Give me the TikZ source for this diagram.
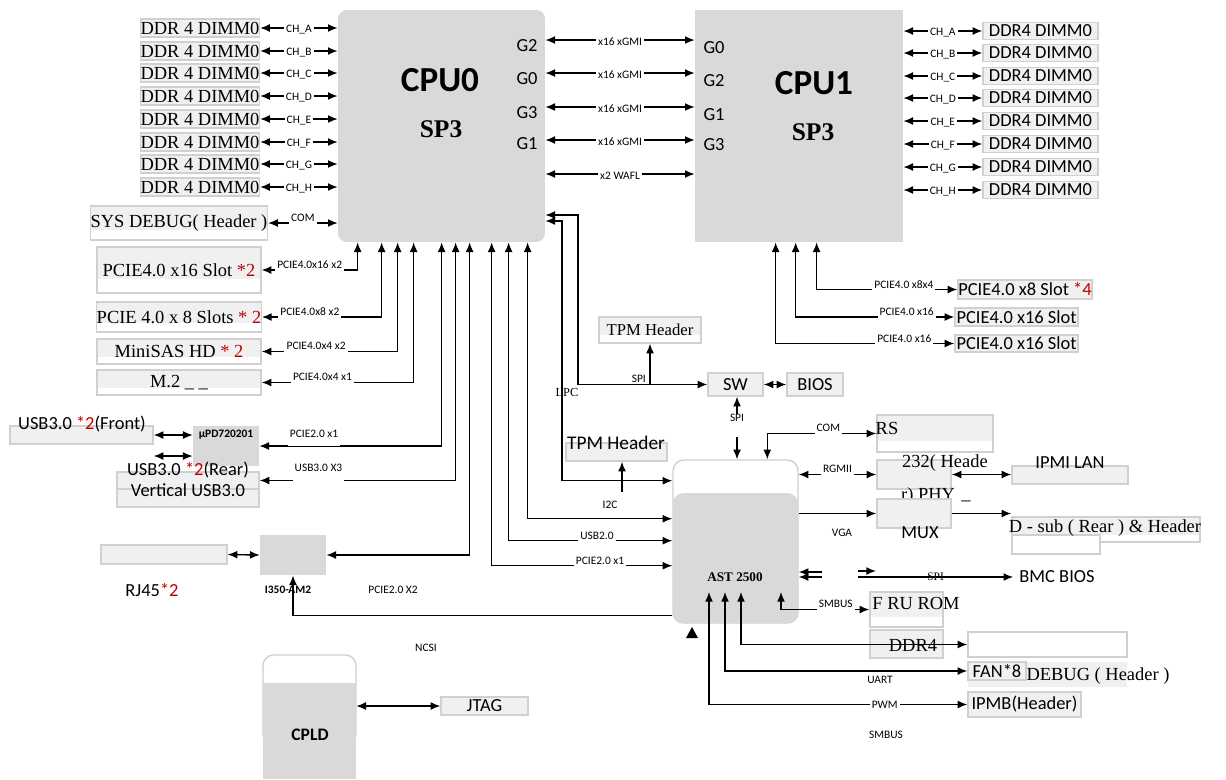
\documentclass[tikz,border=0pt]{standalone}
\usepackage{fontspec}
\setmainfont{Liberation Serif}
\setsansfont{Carlito}
\usepackage{tikz}
\usetikzlibrary{arrows.meta,positioning,calc}
\definecolor{cpuGray}{HTML}{D9D9D9}
\definecolor{boxFill}{HTML}{F0F0F0}
\definecolor{boxLine}{HTML}{D0D0D0}
\definecolor{starRed}{HTML}{C00000}

\begin{document}
\begin{tikzpicture}[x=0.02cm,y=-0.02cm,
  chip/.style={fill=cpuGray,inner sep=0pt},
  gbox/.style={draw=boxLine,fill=boxFill,line width=0.8pt,inner sep=0pt},
  wbox/.style={draw=boxLine,fill=white,line width=0.8pt,inner sep=0pt},
  slot/.style={wbox,path picture={\fill[boxFill] (path picture bounding box.north west) rectangle ($(path picture bounding box.south east)!0.3!(path picture bounding box.north east)$);}},
  ser/.style={font=\fontsize{10.5}{12}\selectfont},
  san/.style={font=\sffamily\fontsize{10.5}{12}\selectfont},
  ddrl/.style={gbox,ser,minimum width=2.32cm,minimum height=0.36cm},
  ddrr/.style={gbox,san,minimum width=2.3cm,minimum height=0.35cm},
  lbl/.style={font=\sffamily\fontsize{6.5}{7}\selectfont,fill=white,inner sep=1.2pt,yshift=3pt},
  hilbl/.style={lbl,yshift=4pt,inner ysep=5pt},
  chl/.style={font=\sffamily\fontsize{6.5}{7}\selectfont,fill=white,inner sep=1.2pt,yshift=-1pt},
  txt/.style={font=\sffamily\fontsize{6.5}{7}\selectfont,inner sep=0pt},
  bold/.style={font=\sffamily\bfseries\fontsize{6.5}{7}\selectfont},
  arr/.style={-{Latex[length=5.5pt,width=4.5pt]},line width=0.8pt},
  dbl/.style={{Latex[length=5.5pt,width=4.5pt]}-{Latex[length=5.5pt,width=4.5pt]},line width=0.8pt}
]
  \useasboundingbox (0,0) rectangle (1226,779);
  \fill[white] (0,0) rectangle (1226,779);

  \node[chip,rounded corners=5pt,minimum width=4.14cm,minimum height=4.64cm] (cpu0) at (441.5,126) {};
  \node[chip,minimum width=4.16cm,minimum height=4.64cm] (cpu1) at (799,126) {};
  \node[font=\sffamily\bfseries\fontsize{20}{24}\selectfont] (cpu0name) at (440,80) {CPU0};
  \node[font=\bfseries\fontsize{14.5}{17}\selectfont] (cpu0sock) at (441,129) {SP3};
  \node[font=\sffamily\bfseries\fontsize{20}{24}\selectfont] (cpu1name) at (814,83) {CPU1};
  \node[font=\bfseries\fontsize{14.5}{17}\selectfont] (cpu1sock) at (813,132) {SP3};
  \node[san] (g02) at (527,46) {G2};
  \node[san] (g00) at (527,79) {G0};
  \node[san] (g03) at (527,113) {G3};
  \node[san] (g01) at (527,144) {G1};
  \node[san] (g10) at (714,48) {G0};
  \node[san] (g12) at (714,81) {G2};
  \node[san] (g11) at (714,115) {G1};
  \node[san] (g13) at (714,145) {G3};

  \coordinate (gmi1) at (620,40);
  \coordinate (gmi2) at (620,73);
  \coordinate (gmi3) at (620,107);
  \coordinate (gmi4) at (620,140);
  \coordinate (wafl) at (620,174);
  \draw[dbl] (gmi1 -| cpu0.east) -- node[chl]{x16 xGMI} (gmi1 -| cpu1.west);
  \draw[dbl] (gmi2 -| cpu0.east) -- node[chl]{x16 xGMI} (gmi2 -| cpu1.west);
  \draw[dbl] (gmi3 -| cpu0.east) -- node[chl]{x16 xGMI} (gmi3 -| cpu1.west);
  \draw[dbl] (gmi4 -| cpu0.east) -- node[chl]{x16 xGMI} (gmi4 -| cpu1.west);
  \draw[dbl] (wafl -| cpu0.east) -- node[chl]{x2 WAFL} (wafl -| cpu1.west);

  \node[ddrl] (ddrA0) at (200,28) {DDR 4 DIMM0};
  \node[ddrl] (ddrB0) at (200,51) {DDR 4 DIMM0};
  \node[ddrl] (ddrC0) at (200,73) {DDR 4 DIMM0};
  \node[ddrl] (ddrD0) at (200,96) {DDR 4 DIMM0};
  \node[ddrl] (ddrE0) at (200,119) {DDR 4 DIMM0};
  \node[ddrl] (ddrF0) at (200,142) {DDR 4 DIMM0};
  \node[ddrl] (ddrG0) at (200,164) {DDR 4 DIMM0};
  \node[ddrl] (ddrH0) at (200,187) {DDR 4 DIMM0};
  \draw[dbl] (ddrA0.east) -- node[chl]{CH\_A} (ddrA0.east -| cpu0.west);
  \draw[dbl] (ddrB0.east) -- node[chl]{CH\_B} (ddrB0.east -| cpu0.west);
  \draw[dbl] (ddrC0.east) -- node[chl]{CH\_C} (ddrC0.east -| cpu0.west);
  \draw[dbl] (ddrD0.east) -- node[chl]{CH\_D} (ddrD0.east -| cpu0.west);
  \draw[dbl] (ddrE0.east) -- node[chl]{CH\_E} (ddrE0.east -| cpu0.west);
  \draw[dbl] (ddrF0.east) -- node[chl]{CH\_F} (ddrF0.east -| cpu0.west);
  \draw[dbl] (ddrG0.east) -- node[chl]{CH\_G} (ddrG0.east -| cpu0.west);
  \draw[dbl] (ddrH0.east) -- node[chl]{CH\_H} (ddrH0.east -| cpu0.west);

  \node[ddrr] (ddrA1) at (1040.5,31) {DDR4 DIMM0};
  \node[ddrr] (ddrB1) at (1040.5,53) {DDR4 DIMM0};
  \node[ddrr] (ddrC1) at (1040.5,76) {DDR4 DIMM0};
  \node[ddrr] (ddrD1) at (1040.5,98) {DDR4 DIMM0};
  \node[ddrr] (ddrE1) at (1040.5,121) {DDR4 DIMM0};
  \node[ddrr] (ddrF1) at (1040.5,144) {DDR4 DIMM0};
  \node[ddrr] (ddrG1) at (1040.5,167) {DDR4 DIMM0};
  \node[ddrr] (ddrH1) at (1040.5,190) {DDR4 DIMM0};
  \draw[dbl] (ddrA1.west -| cpu1.east) -- node[chl]{CH\_A} (ddrA1.west);
  \draw[dbl] (ddrB1.west -| cpu1.east) -- node[chl]{CH\_B} (ddrB1.west);
  \draw[dbl] (ddrC1.west -| cpu1.east) -- node[chl]{CH\_C} (ddrC1.west);
  \draw[dbl] (ddrD1.west -| cpu1.east) -- node[chl]{CH\_D} (ddrD1.west);
  \draw[dbl] (ddrE1.west -| cpu1.east) -- node[chl]{CH\_E} (ddrE1.west);
  \draw[dbl] (ddrF1.west -| cpu1.east) -- node[chl]{CH\_F} (ddrF1.west);
  \draw[dbl] (ddrG1.west -| cpu1.east) -- node[chl]{CH\_G} (ddrG1.west);
  \draw[dbl] (ddrH1.west -| cpu1.east) -- node[chl]{CH\_H} (ddrH1.west);

  \node[slot,ser,minimum width=3.28cm,minimum height=0.68cm] (sysdbg) at (179,223) {SYS DEBUG( Header )};
  \node[slot,ser,minimum width=3.28cm,minimum height=0.92cm] (slot16) at (179,270) {PCIE4.0 x16 Slot \textcolor{starRed}{*2}};
  \node[slot,ser,minimum width=3.28cm,minimum height=0.6cm] (slot8) at (179,317) {PCIE 4.0 x 8 Slots \textcolor{starRed}{* 2}};
  \node[slot,ser,minimum width=3.28cm,minimum height=0.5cm] (minisas) at (179,351.5) {MiniSAS HD \textcolor{starRed}{* 2}};
  \node[slot,ser,minimum width=3.28cm,minimum height=0.5cm] (m2) at (179,382.5) {M.2 \_ \_};
  \draw[dbl] (sysdbg.east) -- node[lbl]{COM} (sysdbg.east -| cpu0.west);
  \draw[dbl] (slot16.east) -| node[lbl,pos=0.25]{PCIE4.0x16 x2} ([xshift=0.4cm]cpu0.south west);
  \draw[dbl] (slot8.east) -| node[lbl,pos=0.2]{PCIE4.0x8 x2} ([xshift=0.88cm]cpu0.south west);
  \draw[dbl] (minisas.east) -| node[lbl,pos=0.2]{PCIE4.0x4 x2} ([xshift=1.2cm]cpu0.south west);
  \draw[dbl] (m2.east) -| node[lbl,pos=0.2]{PCIE4.0x4 x1} ([xshift=1.52cm]cpu0.south west);

  \node[gbox,minimum width=2.86cm,minimum height=0.36cm] (usbF) at (81.5,435) {};
  \node[san] (usbFtxt) at (82,424) {USB3.0 \textcolor{starRed}{*2}(Front)};
  \node[chip,minimum width=1.32cm,minimum height=0.8cm] (upd) at (226,446) {};
  \node[bold] (updtxt) at (226,435) {µPD720201};
  \node[gbox,minimum width=2.84cm,minimum height=0.34cm] (usbR) at (188,480.5) {};
  \node[gbox,minimum width=2.84cm,minimum height=0.36cm] (usbV) at (188,498) {};
  \node[san] (usbRtxt) at (188,470) {USB3.0 \textcolor{starRed}{*2}(Rear)};
  \node[san] (usbVtxt) at (188,490) {Vertical USB3.0};
  \coordinate (upd2) at ([yshift=-0.2cm]upd.west);
  \draw[dbl] (usbF.east) -- (usbF.east -| upd.west);
  \draw[dbl] (upd2) -- (upd2 -| usbF.east);
  \draw[dbl] (upd.east) -| node[hilbl,pos=0.15]{PCIE2.0 x1} ([xshift=2.08cm]cpu0.south west);
  \draw[dbl] (usbR.east) -| node[hilbl,pos=0.15]{USB3.0 X3} ([xshift=2.36cm]cpu0.south west);

  \node[gbox,minimum width=2.52cm,minimum height=0.38cm] (rj45) at (164,554.5) {};
  \node[chip,minimum width=1.32cm,minimum height=0.8cm] (i350) at (293,555) {};
  \node[san] (rj45txt) at (152,590) {RJ45\textcolor{starRed}{*2}};
  \node[bold] (i350txt) at (288,590) {I350-AM2};
  \draw[dbl] (rj45.east) -- (i350.west);
  \draw[dbl] (i350.east) -| ([xshift=2.64cm]cpu0.south west);
  \node[txt] (x2lbl) at (393,590) {PCIE2.0 X2};

  \node[wbox,rounded corners=6pt,minimum width=2.5cm,minimum height=3.26cm] (ast) at (735.5,541.5) {};
  \node[chip,rounded corners=6pt,minimum width=2.5cm,minimum height=2.6cm] (astcore) at (735.5,558) {};
  \node[font=\bfseries\fontsize{7.5}{9}\selectfont] (asttxt) at (735,577) {AST 2500};
  \draw[dbl] ([xshift=3.08cm]cpu0.south west) |- node[lbl,pos=0.8]{PCIE2.0 x1} ([yshift=1.16cm]ast.south west);
  \draw[dbl] ([xshift=3.42cm]cpu0.south west) |- node[lbl,pos=0.77]{USB2.0} ([yshift=1.66cm]ast.south west);
  \draw[dbl] ([xshift=3.8cm]cpu0.south west) |- ([yshift=2.1cm]ast.south west);
  \node[txt] (i2clbl) at (610,505) {I2C};

  \node[gbox,san,minimum width=1.1cm,minimum height=0.46cm] (sw) at (735.5,384.5) {SW};
  \node[gbox,san,minimum width=1.12cm,minimum height=0.46cm] (bios) at (815,384.5) {BIOS};
  \draw[dbl] (sw.east) -- (bios.west);
  \coordinate (lpcA) at (578,215);
  \coordinate (lpcB) at (562,221);
  \draw[dbl] (lpcA -| cpu0.east) -- (lpcA) |- (sw.west);
  \draw[dbl] (lpcB -| cpu0.east) -- (lpcB) |- ([yshift=2.86cm]ast.south west);
  \node[font=\fontsize{7}{8}\selectfont,inner sep=0pt] (lpclbl) at (567,392) {LPC};

  \node[slot,font=\fontsize{9.5}{11}\selectfont,minimum width=2.04cm,minimum height=0.52cm] (tpm1) at (650,330) {TPM Header};
  \draw[arr] (tpm1.south |- sw.west) -- node[txt,left=2pt,pos=0.15]{SPI} (tpm1.south);
  \node[gbox,minimum width=2.02cm,minimum height=0.36cm] (tpm2) at (616.5,452) {};
  \node[font=\sffamily\fontsize{11}{13}\selectfont] (tpm2txt) at (616,443) {TPM Header};
  \coordinate (i2c) at (622,492);
  \draw[arr] (i2c) -- (i2c |- tpm2.south);

  \node[txt] (spilbl) at (737,418) {SPI};
  \draw[arr] (spilbl.north) -- (spilbl.north |- sw.south);
  \draw[arr] ([yshift=-0.3cm]spilbl.south) -- (spilbl.south |- ast.north);

  \node[slot,minimum width=2.32cm,minimum height=0.74cm] (rs) at (935,433.5) {};
  \node[ser] (rstxt) at (887,428) {RS};
  \draw[dbl] ([xshift=1.9cm]ast.north west) |- node[lbl,pos=0.78]{COM} (rs.west);
  \node[gbox,minimum width=1.48cm,minimum height=0.58cm] (phy) at (914,474.5) {};
  \node[ser] (phytxt1) at (945,463) {232( Heade};
  \node[ser] (phytxt2) at (928,496) {r) PHY};
  \node[ser] (phytxt3) at (966,501) {\_};
  \draw[dbl] (ast.east |- phy.west) -- node[lbl]{RGMII} (phy.west);
  \node[gbox,minimum width=2.32cm,minimum height=0.36cm] (ipmi) at (1070,475) {};
  \node[san] (ipmitxt) at (1070,463) {IPMI LAN};
  \draw[dbl] (phy.east) -- (phy.east -| ipmi.west);

  \node[gbox,minimum width=1.48cm,minimum height=0.58cm] (mux) at (914,513.5) {};
  \node[san] (muxtxt) at (920,533) {MUX};
  \draw[arr] (ast.east |- mux.west) -- (mux.west);
  \node[txt] (vgalbl) at (842,533) {VGA};
  \node[slot,minimum width=3.76cm,minimum height=0.5cm] (dsub) at (1106,529.5) {};
  \node[wbox,minimum width=1.76cm,minimum height=0.38cm] (dsub2) at (1056,544.5) {};
  \node[ser] (dsubtxt) at (1105,528) {D - sub ( Rear ) \& Header};
  \draw[arr] (mux.east) -- (mux.east -| dsub.west);

  \node[san] (bmc) at (1057,577) {BMC BIOS};
  \coordinate (spiA) at (822,572);
  \coordinate (spiB) at (822,577);
  \coordinate (spiC) at (858,571);
  \coordinate (spiD) at (876,571);
  \coordinate (spiE) at (858,577);
  \draw[arr] (spiA) -- (spiA -| ast.east);
  \draw[arr] (spiB) -- (spiB -| ast.east);
  \draw[arr] (spiC) -- (spiD);
  \draw[arr] (spiE) -- node[font=\fontsize{6.5}{7}\selectfont,inner sep=0pt]{SPI} (bmc.west);

  \node[slot,minimum width=1.46cm,minimum height=0.7cm] (fru) at (906.5,609.5) {};
  \node[ser] (frutxt) at (916,603) {F RU ROM};
  \node[gbox,minimum width=1.46cm,minimum height=0.56cm] (ddr4) at (906.5,644) {};
  \node[ser] (ddr4txt) at (913,645) {DDR4};
  \node[wbox,minimum width=3.18cm,minimum height=0.5cm] (ddrbmc) at (1047.5,644.5) {};
  \node[fill=boxFill,inner sep=0pt,minimum width=3.18cm,minimum height=0.5cm] (dbgbox) at (1047.5,674.5) {};
  \node[gbox,san,minimum width=1.16cm,minimum height=0.36cm] (fan) at (997,671) {FAN*8};
  \node[ser] (dbgtxt) at (1098,676) {DEBUG ( Header )};
  \node[gbox,san,minimum width=2.26cm,minimum height=0.5cm] (ipmb) at (1024.5,704.5) {IPMB(Header)};
  \coordinate (astB1) at (781,592);
  \coordinate (astB2) at (741,592);
  \coordinate (astB3) at (725,592);
  \coordinate (astB4) at (709,592);
  \draw[dbl] (astB1) |- node[lbl,pos=0.81]{SMBUS} (fru.west);
  \draw[dbl] (astB2) |- (ddrbmc.west);
  \draw[dbl] (astB3) |- (fan.west);
  \node[txt] (uartlbl) at (880,680) {UART};
  \draw[dbl] (astB4) |- node[lbl,pos=0.84,yshift=-3pt]{PWM} (ipmb.west);
  \node[txt] (smbuslbl) at (886,735) {SMBUS};
  \fill (686,638) -- (698,638) -- (692,627) -- cycle;

  \draw[arr] ([yshift=0.16cm]ast.south west) -| (i350.south);
  \node[txt] (ncsilbl) at (426,648) {NCSI};

  \node[wbox,rounded corners=6pt,minimum width=1.86cm,minimum height=1.8cm] (cpldtop) at (309.5,700) {};
  \node[chip,minimum width=1.86cm,minimum height=1.92cm] (cpld) at (309.5,731) {};
  \node[font=\sffamily\bfseries\fontsize{10}{12}\selectfont] (cpldtxt) at (310,735) {CPLD};
  \node[gbox,san,minimum width=1.74cm,minimum height=0.36cm] (jtag) at (484.5,706) {JTAG};
  \draw[dbl] (cpld.east |- jtag.west) -- (jtag.west);

  \node[gbox,san,minimum width=2.68cm,minimum height=0.38cm] (slot8r) at (1025,289.5) {PCIE4.0 x8 Slot \textcolor{starRed}{*4}};
  \node[gbox,san,minimum width=2.46cm,minimum height=0.36cm] (slot16r1) at (1016.5,317) {PCIE4.0 x16 Slot};
  \node[gbox,san,minimum width=2.46cm,minimum height=0.34cm] (slot16r2) at (1016.5,343.5) {PCIE4.0 x16 Slot};
  \draw[dbl] ([xshift=2.44cm]cpu1.south west) |- node[lbl,pos=0.81]{PCIE4.0 x8x4} (slot8r.west);
  \draw[dbl] ([xshift=2.02cm]cpu1.south west) |- node[lbl,pos=0.85]{PCIE4.0 x16} (slot16r1.west);
  \draw[dbl] ([xshift=1.62cm]cpu1.south west) |- node[lbl,pos=0.86]{PCIE4.0 x16} (slot16r2.west);
\end{tikzpicture}
\end{document}
